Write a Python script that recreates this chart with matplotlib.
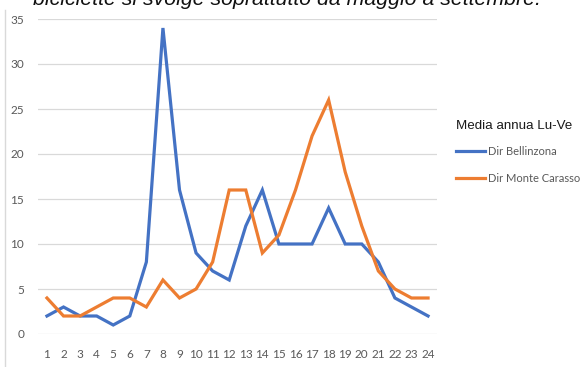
import matplotlib
matplotlib.use("Agg")
import matplotlib.pyplot as plt
from matplotlib.lines import Line2D

hours = list(range(1, 25))
dir_bellinzona = [2, 3, 2, 2, 1, 2, 8, 34, 16, 9, 7, 6, 12, 16, 10, 10, 10, 14, 10, 10, 8, 4, 3, 2]
dir_monte_carasso = [4, 2, 2, 3, 4, 4, 3, 6, 4, 5, 8, 16, 16, 9, 11, 16, 22, 26, 18, 12, 7, 5, 4, 4]
series_names = ["Dir Bellinzona", "Dir Monte Carasso"]
legend_title = "Media annua Lu-Ve"
heading = "biciclette si svolge soprattutto da maggio a settembre."
y_ticks = [0, 5, 10, 15, 20, 25, 30, 35]

BLUE = "#4472C4"
ORANGE = "#ED7D31"
GRID = "#D9D9D9"
TICK = "#595959"
TICK_FONT = ["Lato", "DejaVu Sans"]

fig = plt.figure(figsize=(5.88, 3.67), dpi=100)
ax = fig.add_axes([38 / 588, 1 - 334 / 367, 399 / 588, 315 / 367])

l1, = ax.plot(hours, dir_bellinzona, color=BLUE, lw=2.3, solid_joinstyle="miter",
              label=series_names[0], zorder=3)
l2, = ax.plot(hours, dir_monte_carasso, color=ORANGE, lw=2.3, solid_joinstyle="miter",
              label=series_names[1], zorder=3)

ax.set_xlim(0.46, 24.54)
ax.set_ylim(0, 35)
ax.set_yticks(y_ticks)
ax.set_xticks(hours)
ax.set_xticklabels([str(h) for h in hours], family=TICK_FONT, fontsize=8.5, color=TICK)
ax.set_yticklabels([str(v) for v in y_ticks], family=TICK_FONT, fontsize=8.5, color=TICK)
ax.tick_params(axis="both", length=0)
ax.tick_params(axis="x", pad=11)
ax.tick_params(axis="y", pad=10)
ax.grid(axis="y", color=GRID, lw=0.9)
ax.set_axisbelow(True)
for s in ax.spines.values():
    s.set_visible(False)

# legend to the right of the plot
leg = fig.legend(handles=[l1, l2], title=legend_title, loc="upper left",
                 bbox_to_anchor=(452 / 588, 1 - 116 / 367), frameon=False,
                 prop={"family": TICK_FONT, "size": 8}, handlelength=2.6,
                 handletextpad=0.2, labelspacing=1.4, alignment="left",
                 borderaxespad=0)
leg.get_title().set_fontfamily(["Liberation Sans", "DejaVu Sans"])
leg.get_title().set_fontsize(9.6)
leg.get_title().set_color("#1a1a1a")
for t in leg.get_texts():
    t.set_color(TICK)
leg._legend_box.sep = 10

# heading partly cut off at the top edge
fig.text(33 / 588, 1 - 5 / 367, heading, ha="left", va="baseline", fontsize=15.3,
         style="italic", family=["Liberation Sans", "DejaVu Sans"], color="#111111")

# thin frame line at the left edge
fig.add_artist(Line2D([5 / 588, 5 / 588], [0, 1 - 10 / 367], color=GRID, lw=1,
                      transform=fig.transFigure))

fig.savefig("out.png", dpi=100)
